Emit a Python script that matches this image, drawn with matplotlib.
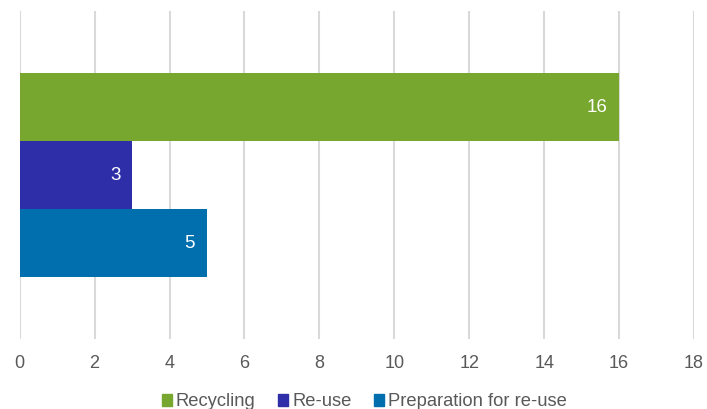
import matplotlib
matplotlib.use("Agg")
import matplotlib.pyplot as plt
from matplotlib.patches import Patch

series = ["Recycling", "Re-use", "Preparation for re-use"]
values = [16, 3, 5]
colors = ["#77A72F", "#2E2EA8", "#016FAE"]
xticks = [0, 2, 4, 6, 8, 10, 12, 14, 16, 18]

plt.rcParams['font.family'] = ['Liberation Sans', 'DejaVu Sans']

W, H = 707, 409
fig = plt.figure(figsize=(W/100, H/100), dpi=100)
ax = fig.add_axes([19.7/W, 1-339/H, (694-19.7)/W, 328/H])

h = 204/328/3
ys = [h, 0, -h]
for y, v, c in zip(ys, values, colors):
    ax.barh(y, v, height=h, color=c, zorder=2)
    ax.annotate(str(v), xy=(v, y), xytext=(-8.5, 0), textcoords="offset points",
                ha="right", va="center", color="white", fontsize=13.5)
ax.set_ylim(-0.5, 0.5)
ax.set_xlim(0, 18)
ax.set_xticks(xticks)
ax.set_xticklabels([str(t) for t in xticks])
ax.set_yticks([])
ax.grid(axis="x", color="#D9D9D9", linewidth=1.5, zorder=0)
for s in ax.spines.values():
    s.set_visible(False)
ax.tick_params(axis="x", length=0, labelsize=13, labelcolor="#595959", pad=11.5)

handles = [Patch(color=c) for c in colors]
fig.legend(handles, series, loc="center", bbox_to_anchor=(364.5/W, 1-402/H), ncol=3,
           frameon=False, fontsize=13.2, labelcolor="#595959", borderpad=0,
           handlelength=0.55, handleheight=0.55, handletextpad=0.2, columnspacing=1.25)

fig.savefig("out.png", dpi=100)
